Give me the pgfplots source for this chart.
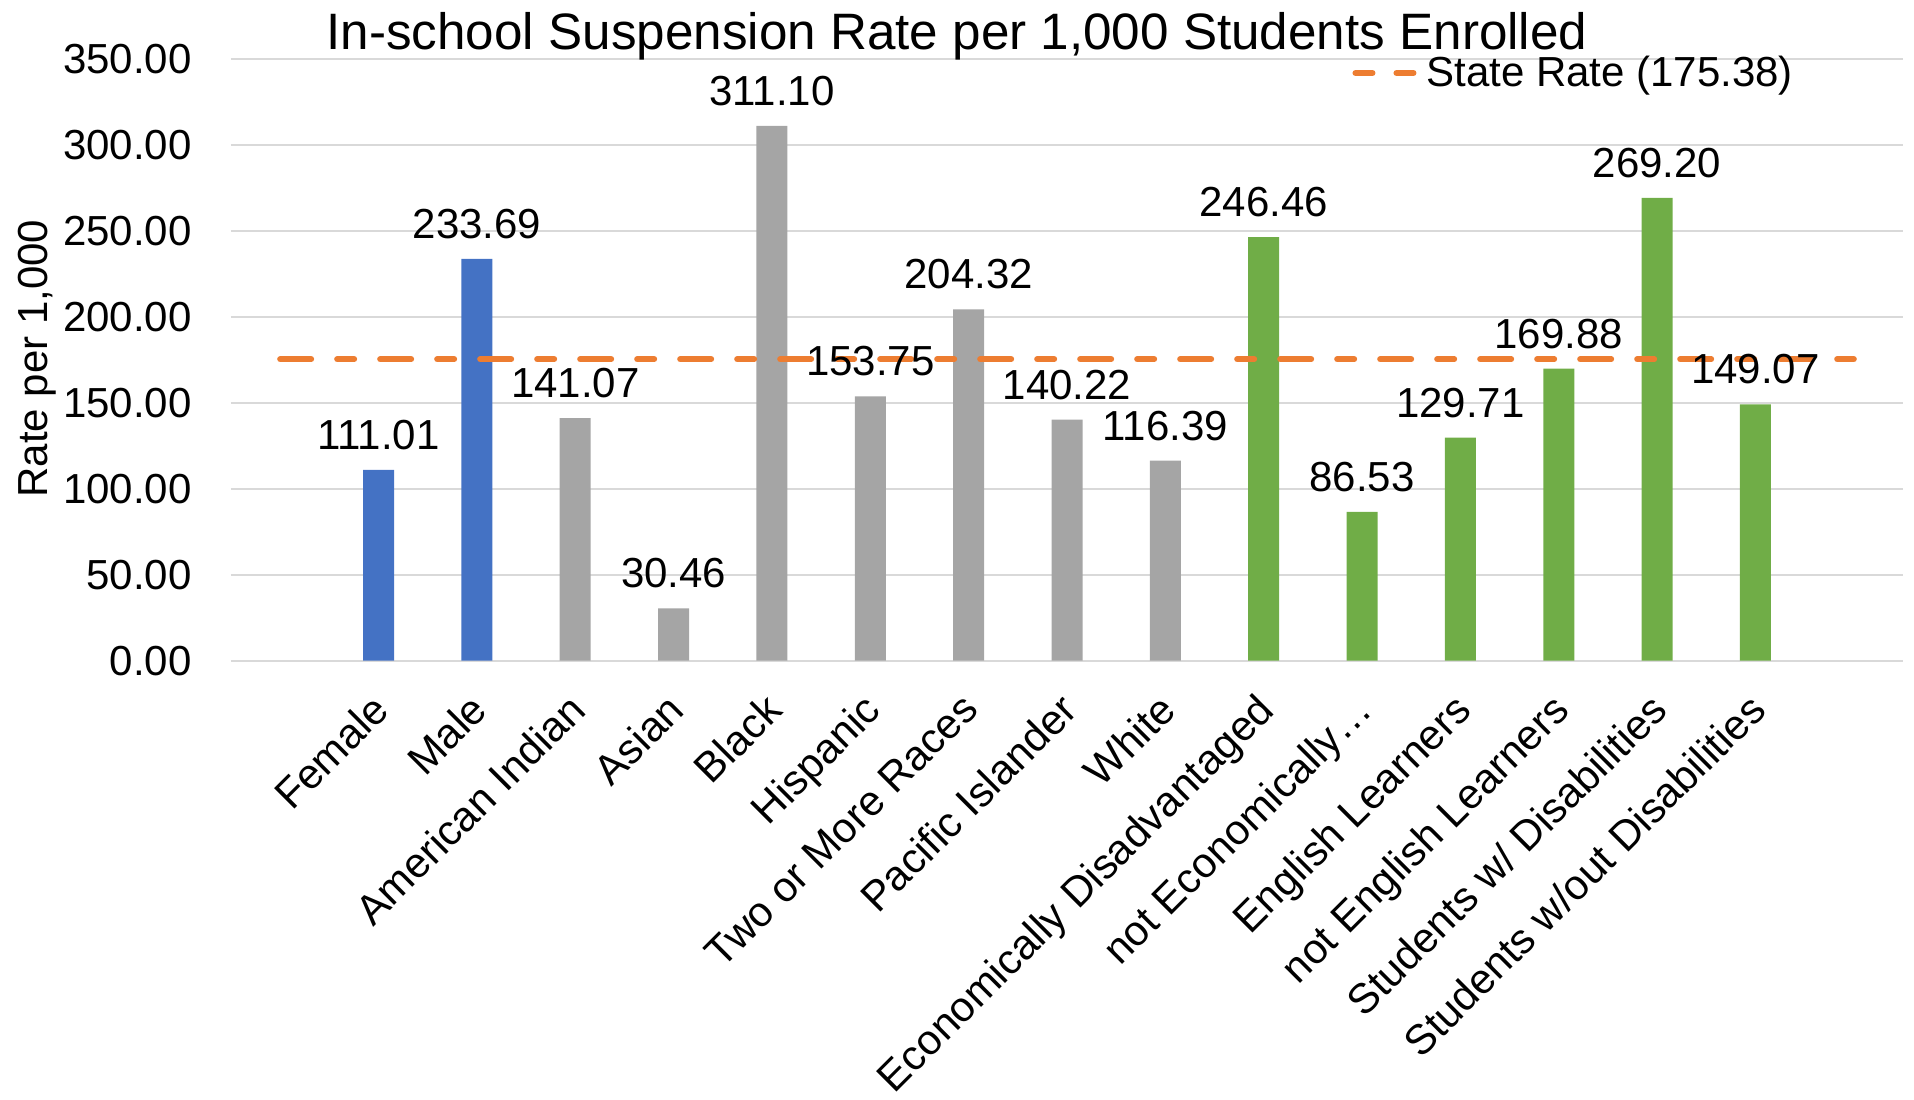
\documentclass[border=0pt]{standalone}
\usepackage{fontspec}
\setmainfont{Liberation Sans}
\usepackage{pgfplots}
\pgfplotsset{compat=1.18}
\definecolor{cblue}{HTML}{4472C4}
\definecolor{cgray}{HTML}{A5A5A5}
\definecolor{cgreen}{HTML}{70AD47}
\definecolor{corange}{HTML}{ED7D31}
\definecolor{cgrid}{HTML}{D9D9D9}
\newcommand{\f}{\fontsize{21pt}{25pt}\selectfont}
\pgfplotsset{
  mybar/.style={ybar, bar width=15.5pt, bar shift=0pt, fill=#1, draw=none, forget plot,
    nodes near coords={\pgfmathprintnumber[fixed,fixed zerofill,precision=2,assume math mode=true]{\pgfplotspointmeta}},
    every node near coord/.append style={font=\f, text=black, anchor=base, inner sep=0pt, yshift=10.3pt}},
}
\begin{document}
\begin{tikzpicture}
\begin{axis}[
  scale only axis,
  width=836pt, height=300.85pt,
  xmin=-0.5, xmax=16.5, ymin=0, ymax=350,
  ytick={0,50,...,350},
  xtick={1,...,15},
  xticklabels={Female, Male, American Indian, Asian, Black, Hispanic, Two or More Races, Pacific Islander, White, Economically Disadvantaged, not Economically…, English Learners, not English Learners, Students w/ Disabilities, Students w/out Disabilities},
  yticklabel={\pgfmathprintnumber[fixed,fixed zerofill,precision=2,assume math mode=true]{\tick}},
  axis line style={draw=none},
  major tick length=0pt,
  ymajorgrids, grid style={cgrid, line width=1pt},
  tick label style={font=\f},
  yticklabel style={inner sep=0pt, anchor=east, xshift=-19.5pt},
  xticklabel style={xshift=-4.5pt, yshift=-15pt, rotate=45, anchor=north east, inner sep=0pt},
  title={In-school Suspension Rate per 1,000 Students Enrolled},
  every axis title shift=0pt,
  title style={at={(axis description cs:0.4342,1)}, anchor=base, yshift=5pt, font=\fontsize{25.6pt}{30pt}\selectfont, inner sep=0pt},
  ylabel={Rate per 1,000},
  every axis y label/.style={at={(axis description cs:-0.10945,0.5022)}, rotate=90, anchor=base, font=\f, inner sep=0pt},
  legend style={at={(axis description cs:0.6687,0.9767)}, anchor=west, draw=none, fill=none, inner sep=0pt, font=\f, nodes={inner sep=0pt}},
  clip=false,
]
\addplot[mybar=cblue] coordinates {(1,111.01) (2,233.69)};
\addplot[mybar=cgray] coordinates {(3,141.07) (4,30.46) (5,311.10) (6,153.75) (7,204.32) (8,140.22) (9,116.39)};
\addplot[mybar=cgreen] coordinates {(10,246.46) (11,86.53) (12,129.71) (13,169.88) (14,269.20) (15,149.07)};
\addplot[corange, line width=3pt, line cap=round, dash pattern=on 15.5pt off 13pt on 8.5pt off 13pt,
  legend image code/.code={\draw[corange, line width=3pt, line cap=round, dash pattern=on 8.5pt off 12pt] (1.5pt,0pt) -- (30.5pt,0pt); \path (0pt,0pt) (35.5pt,0pt);}]
  coordinates {(0,175.38) (16,175.38)};
\addlegendentry{State Rate (175.38)}
\end{axis}
\pgfresetboundingbox
\path[use as bounding box] (-115.5pt,-219.15pt) rectangle (841.5pt,330.35pt);
\end{tikzpicture}
\end{document}
